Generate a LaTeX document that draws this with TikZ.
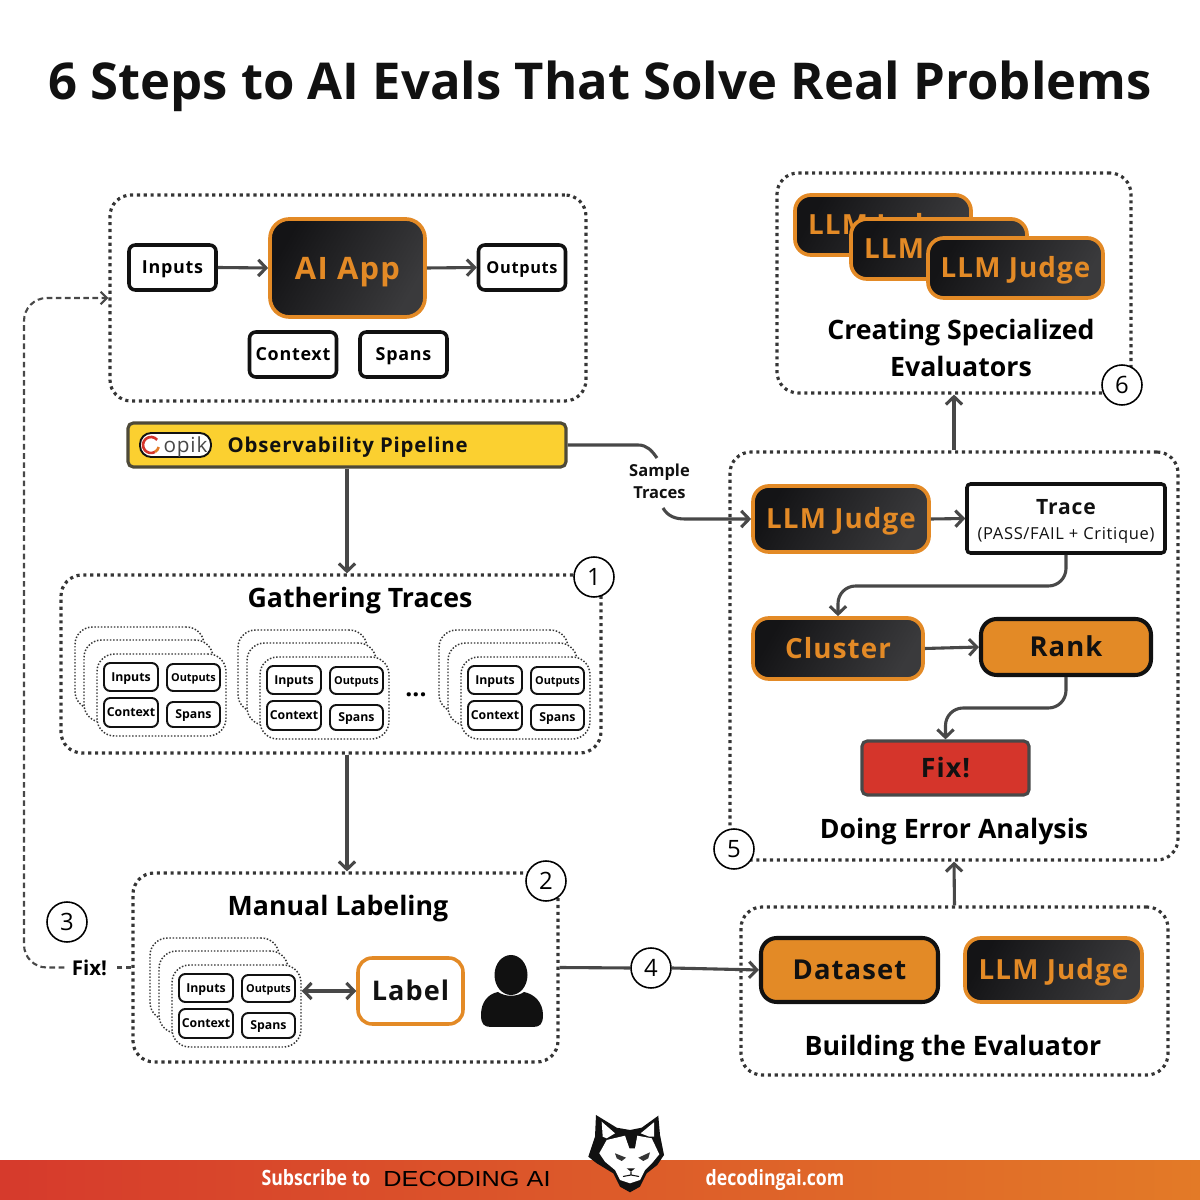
\documentclass[tikz,border=0pt]{standalone}
\usepackage{fontspec}
\usetikzlibrary{arrows.meta,positioning,calc}
\setmainfont{Open Sans}
\newfontfamily\spacedfont[LetterSpace=4]{Open Sans}
\newfontfamily\condfont[FakeStretch=0.84]{Open Sans}
\newfontfamily\brandfont[FakeStretch=1.16]{Liberation Sans}

\definecolor{inkblack}{HTML}{111111}
\definecolor{flowgray}{HTML}{484848}
\definecolor{appdark}{HTML}{141416}
\definecolor{appmid}{HTML}{1F1F21}
\definecolor{applight}{HTML}{3A3A3C}
\definecolor{amber}{HTML}{E38A26}
\definecolor{pipeyellow}{HTML}{FBD030}
\definecolor{piperim}{HTML}{4E4A38}
\definecolor{fixred}{HTML}{D5352B}
\definecolor{barred}{HTML}{D63A2C}
\definecolor{barorange}{HTML}{E37A27}

% one stack of trace cards, drawn at the place of the first stack
\newcommand{\tracestack}[3]{%
  \begin{scope}[shift={(#2,#3)}]
    \node[tracecard] (#1back) at (1.395,5.32) {};
    \node[tracecard] (#1mid) at (1.485,5.19) {};
    \node[tracecard] (#1front) at (1.615,5.05) {};
    \node[minibox, minimum width=0.54cm, minimum height=0.28cm] (#1in) at (1.31,5.23) {Inputs};
    \node[minibox, minimum width=0.53cm, minimum height=0.27cm, font=\bfseries\fontsize{3.1}{4}\selectfont] (#1out) at (1.935,5.225) {Outputs};
    \node[minibox, minimum width=0.54cm, minimum height=0.29cm] (#1ctx) at (1.31,4.875) {Context};
    \node[minibox, minimum width=0.53cm, minimum height=0.25cm] (#1spn) at (1.935,4.855) {Spans};
  \end{scope}
}

\begin{document}
\begin{tikzpicture}[
  dotframe/.style={rectangle, draw=inkblack!85, rounded corners=6pt, line width=0.9pt, dash pattern=on 0.9pt off 1.05pt, inner sep=0pt},
  tracecard/.style={rectangle, draw=inkblack!85, fill=white, rounded corners=5pt, line width=0.42pt, dash pattern=on 0.42pt off 0.5pt, minimum width=1.29cm, minimum height=0.82cm, inner sep=0pt},
  minibox/.style={rectangle, draw=inkblack, fill=white, rounded corners=1.8pt, line width=0.55pt, inner sep=0pt, text height=2.5pt, text depth=0pt, font=\bfseries\fontsize{3.5}{4}\selectfont},
  plainbox/.style={rectangle, draw=inkblack, fill=white, rounded corners=1.8pt, line width=1pt, inner sep=0pt, minimum width=0.87cm, minimum height=0.45cm, text height=3.64pt, text depth=0pt, font=\spacedfont\bfseries\fontsize{5.1}{6}\selectfont},
  darkbox/.style={rectangle, draw=amber, rounded corners=4.5pt, line width=1.05pt, inner sep=0pt, left color=appdark, middle color=appmid, right color=applight, shading angle=60, text=amber, text height=5.6pt, text depth=0pt, font=\spacedfont\bfseries\fontsize{7.9}{9}\selectfont},
  orangebox/.style={rectangle, draw=inkblack, fill=amber, rounded corners=4.5pt, line width=1.15pt, inner sep=0pt, text=inkblack, text height=5.6pt, text depth=0pt, font=\spacedfont\bfseries\fontsize{7.8}{9}\selectfont},
  headline/.style={text height=5.4pt, text depth=0pt, font=\bfseries\fontsize{7.6}{9}\selectfont, text=black, inner sep=0pt},
  stepnum/.style={circle, draw=black, fill=white, line width=0.45pt, minimum size=0.4cm, inner sep=0pt, font=\fontsize{6.8}{8}\selectfont},
  flow/.style={draw=flowgray, line width=0.88pt, -{Straight Barb[length=2.2pt,width=4.6pt,line width=0.88pt]}},
  flowplain/.style={draw=flowgray, line width=0.88pt},
  loopback/.style={draw=flowgray, line width=0.6pt, dash pattern=on 1.6pt off 1pt}
]
\useasboundingbox (0,0) rectangle (12,12);
\node[font=\bfseries\fontsize{14.45}{16}\selectfont, text=inkblack, inner sep=0pt] (maintitle) at (6,11.14) {6 Steps to AI Evals That Solve Real Problems};

% app and its pipeline
\node[dotframe, minimum width=4.76cm, minimum height=2.06cm] (appframe) at (3.48,9.02) {};
\node[plainbox] (inputs) at (1.725,9.325) {Inputs};
\node[darkbox, minimum width=1.55cm, minimum height=0.98cm, rounded corners=5.5pt, text height=6.3pt, font=\spacedfont\bfseries\fontsize{8.8}{10}\selectfont] (aiapp) at (3.475,9.32) {AI App};
\node[plainbox] (outputs) at (5.22,9.325) {\fontsize{4.65}{6}\selectfont Outputs};
\node[plainbox] (context) at (2.93,8.455) {Context};
\node[plainbox] (spans) at (4.035,8.455) {Spans};
\draw[flow] (inputs.east) -- (aiapp.west);
\draw[flow] (aiapp.east) -- (outputs.west);

\node[rectangle, draw=piperim, fill=pipeyellow, rounded corners=1.5pt, line width=0.9pt, minimum width=4.38cm, minimum height=0.44cm, inner sep=0pt] (pipeline) at (3.47,7.55) {};
\node[draw=inkblack, fill=white, rounded corners=3.2pt, line width=0.55pt, minimum width=0.71cm, minimum height=0.24cm, inner sep=0pt, text height=4pt, text depth=0pt, font=\spacedfont\fontsize{5.9}{7}\selectfont, text=flowgray] (opiklogo) at (1.755,7.55) {\hspace{0.2cm}opik};
\coordinate (opikring) at (1.51,7.55);
\draw[fixred, line width=0.75pt] ([shift={(40:0.08)}]opikring) arc (40:300:0.08);
\draw[barorange, line width=0.75pt] ([shift={(300:0.08)}]opikring) arc (300:345:0.08);
\node[font=\spacedfont\bfseries\fontsize{5.8}{7}\selectfont, inner sep=0pt, anchor=west, text height=4.1pt, text depth=0pt, text=inkblack] (pipetext) at (2.27,7.55) {Observability Pipeline};

% gathering traces
\node[dotframe, minimum width=5.4cm, minimum height=1.78cm] (gathering) at (3.31,5.36) {};
\node[headline] (gathertitle) at (3.6,6.02) {Gathering Traces};
\tracestack{one}{0}{0}
\tracestack{two}{1.63}{-0.03}
\tracestack{three}{3.64}{-0.03}
\node[font=\bfseries\fontsize{7}{8}\selectfont, inner sep=0pt] (moredots) at (4.16,5.05) {...};
\node[stepnum] (num1) at (5.94,6.23) {1};
\draw[flow] (pipeline.south) -- (pipeline.south |- gathering.north);

% manual labeling
\node[dotframe, minimum width=4.25cm, minimum height=1.89cm] (manual) at (3.455,2.325) {};
\node[headline] (manualtitle) at (3.38,2.94) {Manual Labeling};
\tracestack{four}{0.75}{-3.11}
\node[rectangle, draw=amber, fill=white, rounded corners=4pt, line width=1pt, minimum width=1.05cm, minimum height=0.66cm, inner sep=0pt, text height=5.6pt, text depth=0pt, font=\spacedfont\bfseries\fontsize{7.7}{9}\selectfont, text=inkblack] (labelbox) at (4.105,2.09) {Label};
\fill[inkblack] (5.11,2.25) ellipse (0.165 and 0.2);
\fill[inkblack] (4.81,1.85) .. controls (4.81,1.98) and (4.88,2.06) .. (4.98,2.08) .. controls (5.05,2.03) and (5.17,2.03) .. (5.24,2.08) .. controls (5.34,2.06) and (5.43,1.98) .. (5.43,1.85) .. controls (5.43,1.76) and (5.40,1.73) .. (5.33,1.73) -- (4.91,1.73) .. controls (4.84,1.73) and (4.81,1.76) .. (4.81,1.85) -- cycle;
\node[stepnum] (num2) at (5.46,3.19) {2};
\draw[flow, {Straight Barb[length=2.2pt,width=4.6pt,line width=0.88pt]}-{Straight Barb[length=2.2pt,width=4.6pt,line width=0.88pt]}] (fourfront.east |- labelbox.west) -- (labelbox.west);
\draw[flow] (pipeline.south |- gathering.south) -- (pipeline.south |- manual.north);

% fix goes back to the app
\node[font=\bfseries\fontsize{5.8}{7}\selectfont, inner sep=0pt] (fixnote) at (0.895,2.325) {Fix!};
\node[stepnum] (num3) at (0.67,2.78) {3};
\coordinate (loopside) at (0.24,5);
\draw[loopback] (manual.west) -- ([xshift=2pt]fixnote.east);
\draw[loopback, rounded corners=6.5pt, -{Straight Barb[length=1.8pt,width=3.6pt,line width=0.6pt]}] ([xshift=-2pt]fixnote.west) -| (loopside) |- (appframe.west);

% sample traces into the error analysis
\node[dotframe, minimum width=4.48cm, minimum height=4.08cm] (erroranalysis) at (9.54,5.44) {};
\node[font=\bfseries\fontsize{4.7}{6.2}\selectfont, align=center, inner sep=0pt, text=inkblack] (sampletext) at (6.595,7.19) {Sample\\Traces};
\node[darkbox, minimum width=1.76cm, minimum height=0.66cm] (judgefive) at (8.41,6.81) {LLM Judge};
\node[rectangle, draw=inkblack, fill=white, rounded corners=1pt, line width=1pt, minimum width=1.98cm, minimum height=0.69cm, inner sep=0pt] (trace) at (10.66,6.815) {};
\node[font=\spacedfont\bfseries\fontsize{6}{7}\selectfont, inner sep=0pt, text=inkblack] (tracetitle) at (10.66,6.93) {Trace};
\node[font=\spacedfont\fontsize{4.7}{6}\selectfont, inner sep=0pt, text=inkblack] (tracenote) at (10.66,6.65) {(PASS/FAIL + Critique)};
\node[darkbox, minimum width=1.7cm, minimum height=0.61cm] (cluster) at (8.38,5.515) {Cluster};
\node[orangebox, minimum width=1.7cm, minimum height=0.56cm] (rank) at (10.66,5.53) {Rank};
\node[rectangle, draw=flowgray, fill=fixred, rounded corners=1.5pt, line width=0.9pt, minimum width=1.67cm, minimum height=0.54cm, inner sep=0pt, text height=5.4pt, text depth=0pt, font=\spacedfont\bfseries\fontsize{7.6}{9}\selectfont, text=inkblack] (fixbox) at (9.455,4.32) {Fix!};
\node[headline] (errortitle) at (9.54,3.71) {Doing Error Analysis};
\node[stepnum] (num5) at (7.34,3.51) {5};
\coordinate (sampletop) at (6.57,7.42);
\coordinate (samplelow) at (6.63,6.92);
\draw[flowplain] (pipeline.east) -- (6.38,7.55) to[out=0,in=125] (sampletop);
\draw[flow] (samplelow) to[out=-60,in=180] (6.85,6.81) -- (judgefive.west);
\draw[flow] (judgefive.east) -- (trace.west);
\draw[flow, rounded corners=5pt] (trace.south) |- (9.5,6.14) -| (cluster.north);
\draw[flow] (cluster.east) -- (rank.west);
\draw[flow, rounded corners=5pt] (rank.south) |- (10,4.92) -| (fixbox.north);

% specialized evaluators
\node[dotframe, minimum width=3.54cm, minimum height=2.2cm] (specialized) at (9.54,9.17) {};
\node[darkbox, minimum width=1.76cm, minimum height=0.6cm] (judgeback) at (8.83,9.75) {LLM Judge};
\node[darkbox, minimum width=1.76cm, minimum height=0.6cm] (judgemid) at (9.39,9.51) {LLM Judge};
\node[darkbox, minimum width=1.75cm, minimum height=0.6cm] (judgefront) at (10.155,9.32) {LLM Judge};
\node[align=center, inner sep=0pt, font=\bfseries\fontsize{7.6}{10.5}\selectfont] (specialtitle) at (9.61,8.52) {Creating Specialized\\Evaluators};
\node[stepnum] (num6) at (11.22,8.15) {6};
\draw[flow] (erroranalysis.north) -- (specialized.south);

% building the evaluator
\node[dotframe, minimum width=4.27cm, minimum height=1.68cm] (building) at (9.545,2.09) {};
\node[orangebox, minimum width=1.77cm, minimum height=0.64cm] (dataset) at (8.495,2.3) {Dataset};
\node[darkbox, minimum width=1.77cm, minimum height=0.64cm] (judgefour) at (10.535,2.3) {LLM Judge};
\node[headline] (buildtitle) at (9.53,1.54) {Building the Evaluator};
\draw[flow] (building.north) -- (erroranalysis.south);
\node[stepnum] (num4) at (6.51,2.32) {4};
\draw[flowplain] (manual.east) -- (num4.west);
\draw[flow] (num4.east) -- (dataset.west);

% footer band and cat
\shade[left color=barred, right color=barorange] (0,0) rectangle (12,0.4);
\node[font=\condfont\bfseries\fontsize{6}{7}\selectfont, text=white, inner sep=0pt] (subscribe) at (3.16,0.22) {Subscribe to};
\node[font=\brandfont\fontsize{6.2}{7}\selectfont, text=black, inner sep=0pt] (brand) at (4.67,0.21) {DECODING AI};
\node[font=\condfont\bfseries\fontsize{6}{7}\selectfont, text=white, inner sep=0pt] (siteurl) at (7.75,0.2) {decodingai.com};
\fill[inkblack] (5.96,0.85) -- (6.167,0.723) -- (6.30,0.70) -- (6.417,0.723) -- (6.583,0.843) -- (6.60,0.65) -- (6.64,0.45) -- (6.573,0.35) -- (6.467,0.267) -- (6.40,0.133) -- (6.30,0.077) -- (6.20,0.133) -- (6.133,0.267) -- (5.967,0.367) -- (5.883,0.433) -- (5.95,0.633) -- cycle;
\fill[white] (5.993,0.467) -- (6.067,0.60) -- (6.25,0.643) -- (6.293,0.517) -- (6.35,0.517) -- (6.373,0.643) -- (6.517,0.617) -- (6.593,0.457) -- (6.527,0.377) -- (6.45,0.30) -- (6.40,0.20) -- (6.30,0.167) -- (6.20,0.20) -- (6.15,0.30) -- (6.05,0.383) -- cycle;
\fill[white] (6.017,0.783) -- (6.15,0.667) -- (6.067,0.617) -- (6.027,0.633) -- cycle;
\fill[white] (6.54,0.777) -- (6.407,0.667) -- (6.493,0.633) -- (6.54,0.633) -- cycle;
\fill[inkblack!85] (6.15,0.467) -- (6.26,0.423) -- (6.217,0.39) -- (6.167,0.417) -- cycle;
\fill[inkblack!85] (6.5,0.477) -- (6.383,0.423) -- (6.433,0.39) -- (6.483,0.417) -- cycle;
\fill[inkblack] (6.267,0.317) -- (6.35,0.317) -- (6.31,0.283) -- cycle;
\draw[inkblack, line width=0.3pt] (6.31,0.283) -- (6.31,0.25) (6.23,0.235) -- (6.31,0.25) -- (6.39,0.235);
\end{tikzpicture}
\end{document}
